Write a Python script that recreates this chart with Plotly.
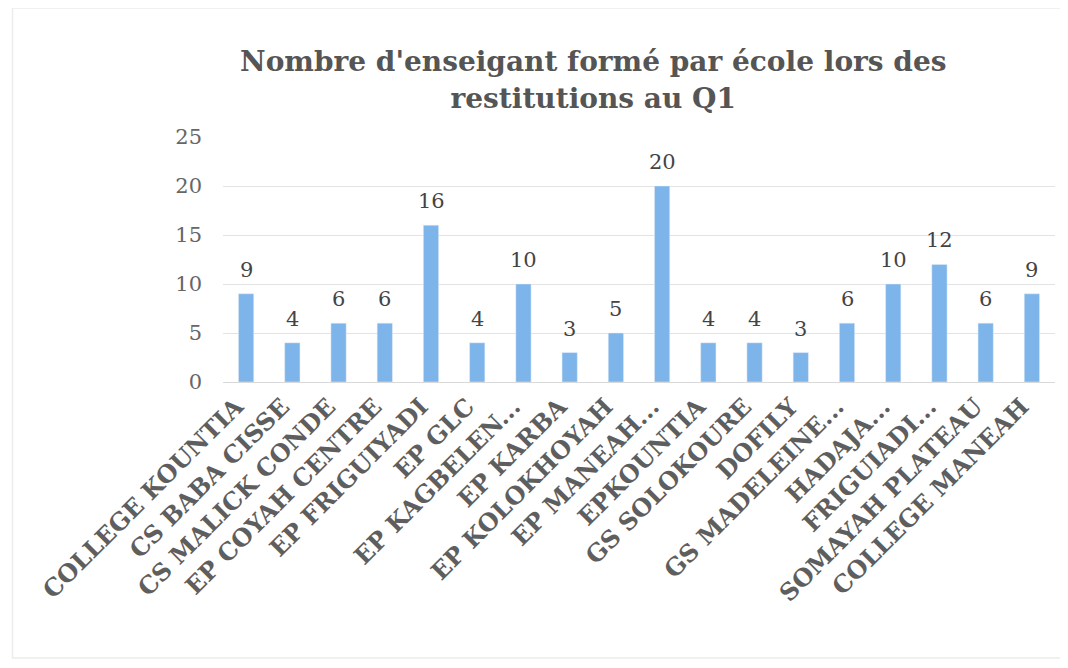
import plotly.graph_objects as go

# Données
ecoles = [
    "COLLEGE KOUNTIA", "CS BABA CISSE", "CS MALICK CONDE", "EP COYAH CENTRE",
    "EP FRIGUIYADI", "EP GLC", "EP KAGBELEN...", "EP KARBA", "EP KOLOKHOYAH",
    "EP MANEAH...", "EPKOUNTIA", "GS SOLOKOURE", "DOFILY", "GS MADELEINE...",
    "HADAJA...", "FRIGUIADI...", "SOMAYAH PLATEAU", "COLLEGE MANEAH",
]
enseignants = [9, 4, 6, 6, 16, 4, 10, 3, 5, 20, 4, 4, 3, 6, 10, 12, 6, 9]
y_ticks = [0, 5, 10, 15, 20, 25]

serif = "DejaVu Serif, Georgia, serif"

fig = go.Figure()
fig.add_trace(go.Bar(
    x=ecoles,
    y=enseignants,
    width=0.33,
    marker_color="#7db4ea",
    hovertemplate="%{x} : %{y}<extra></extra>",
))

# étiquettes de valeurs au-dessus des barres
for ecole, n in zip(ecoles, enseignants):
    fig.add_annotation(
        x=ecole, y=n, text=str(n),
        showarrow=False, yanchor="bottom", yshift=10,
        font=dict(family=serif, size=21, color="#444444"),
    )

# cadre léger autour du graphique
fig.add_shape(
    type="rect", xref="paper", yref="paper",
    x0=-0.253, x1=1.013, y0=-1.127, y1=1.527,
    line=dict(color="#ececec", width=1.5),
    layer="below",
)

fig.update_layout(
    width=1068,
    height=668,
    margin=dict(l=215, r=21, t=129, b=294, autoexpand=False),
    paper_bgcolor="white",
    plot_bgcolor="white",
    showlegend=False,
    title=dict(
        text="<b>Nombre d'enseigant formé par école lors des<br>restitutions au Q1</b>",
        x=0.548,
        xanchor="center",
        y=0.905,
        yanchor="top",
        font=dict(family=serif, size=28, color="#555555"),
    ),
    xaxis=dict(
        tickangle=-45,
        tickfont=dict(family=serif, size=24, color="#5e5e5e", weight="bold"),
        ticklabelshift=-10,
        showline=True,
        linecolor="#d9d9d9",
        ticks="",
        automargin=False,
    ),
    yaxis=dict(
        range=[0, 25],
        tickvals=y_ticks,
        tickfont=dict(family=serif, size=21, color="#666666"),
        gridcolor="#e3e3e3",
        zeroline=False,
        ticklabelstandoff=20,
        automargin=False,
    ),
    bargap=0.67,
)

fig.write_html("out.html")
